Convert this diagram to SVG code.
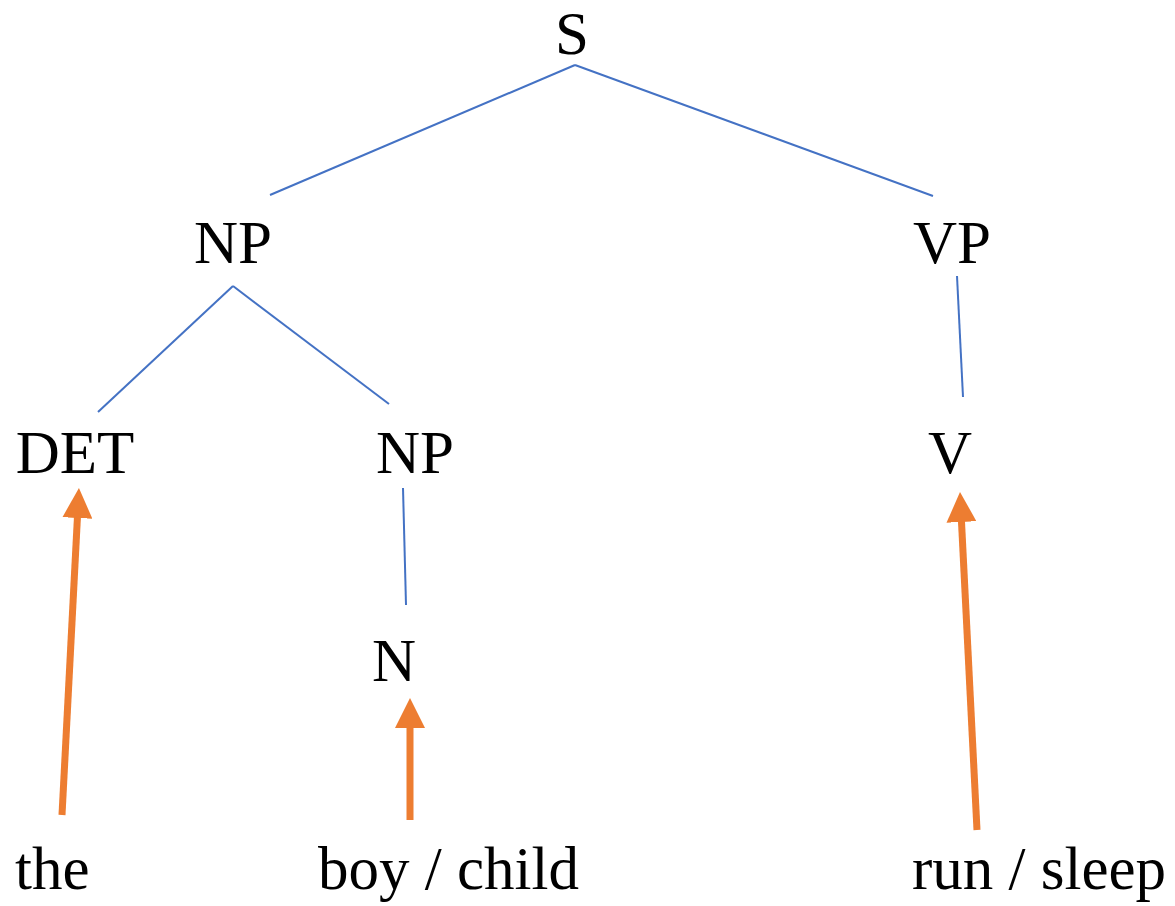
<svg xmlns="http://www.w3.org/2000/svg" width="1175" height="906" viewBox="0 0 1175 906">
<style>
.t{font-family:"Liberation Serif","Times New Roman",serif;font-size:61px;fill:#000;text-anchor:middle}
.tl{font-family:"Liberation Serif","Times New Roman",serif;font-size:61px;fill:#000}
.e{stroke:#4472C4;stroke-width:2;fill:none}
.a{stroke:#ED7D31;stroke-width:7;fill:none;marker-end:url(#ah)}
</style>
<defs>
<marker id="ah" markerUnits="userSpaceOnUse" markerWidth="32" markerHeight="30" refX="2" refY="15" orient="auto" viewBox="0 0 32 30">
<path d="M0,0 L30,15 L0,30 z" fill="#ED7D31"/>
</marker>
</defs>
<rect width="1175" height="906" fill="#fff"/>
<g id="connectors">
<line class="e" x1="575" y1="65" x2="270" y2="195"/>
<line class="e" x1="575" y1="65" x2="933" y2="196"/>
<line class="e" x1="233" y1="286" x2="98" y2="412"/>
<line class="e" x1="233" y1="286" x2="389" y2="404"/>
<line class="e" x1="957" y1="276" x2="963" y2="397"/>
<line class="e" x1="403" y1="488" x2="406" y2="605"/>
<line class="a" x1="62" y1="815" x2="77.5" y2="516"/>
<line class="a" x1="410" y1="820" x2="410" y2="726"/>
<line class="a" x1="977" y1="830" x2="961.4" y2="520"/>
</g>
<g id="S"><text class="t" x="572" y="54">S</text></g>
<g id="NP1"><text class="t" x="233" y="263">NP</text></g>
<g id="VP"><text class="t" x="952" y="263">VP</text></g>
<g id="DET"><text class="t" x="75" y="473">DET</text></g>
<g id="NP2"><text class="t" x="415" y="473">NP</text></g>
<g id="V"><text class="t" x="950" y="473">V</text></g>
<g id="N"><text class="t" x="394" y="681">N</text></g>
<g id="the"><text class="tl" x="15" y="889">the</text></g>
<g id="boy"><text class="tl" x="318" y="889">boy / child</text></g>
<g id="run"><text class="tl" x="912" y="889">run / sleep</text></g>
</svg>
